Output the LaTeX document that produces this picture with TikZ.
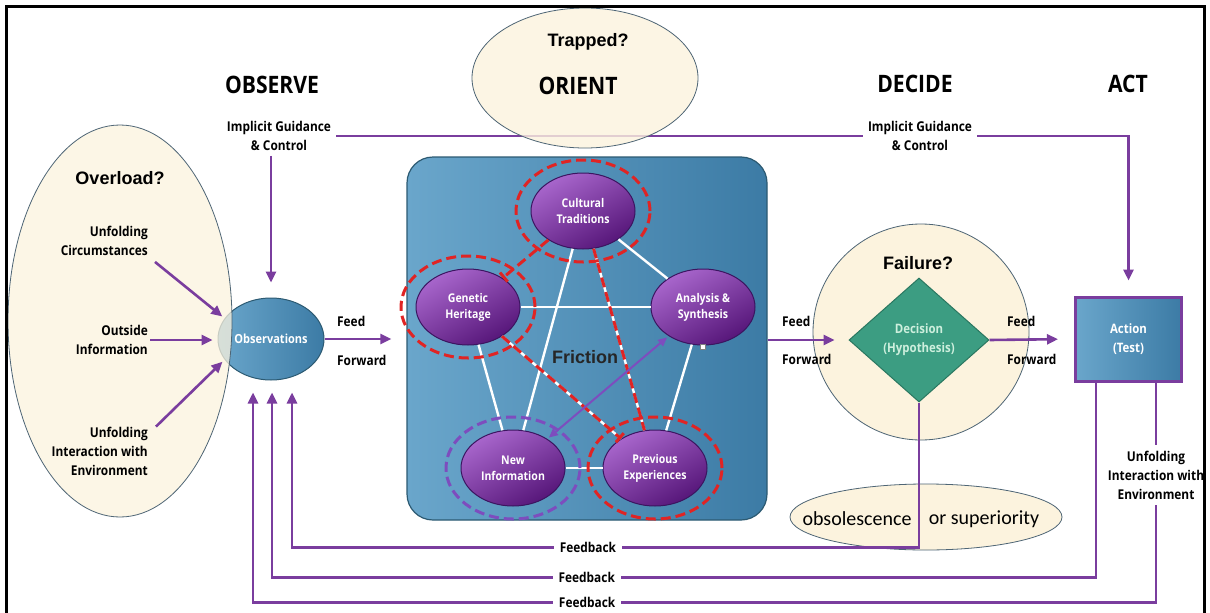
\documentclass[tikz,border=0pt]{standalone}
\usepackage{fontspec}
\setmainfont{Open Sans}[FakeStretch=0.88]
\newfontfamily\qfont{Liberation Sans}
\newfontfamily\calfont{Carlito}
\usetikzlibrary{shapes.geometric,arrows.meta,calc}

\definecolor{flowpurple}{HTML}{7A3D9E}
\definecolor{creamfill}{HTML}{FCF3DE}
\definecolor{edgegray}{HTML}{4E6575}
\definecolor{boxblueL}{HTML}{6AA6CB}
\definecolor{boxblueD}{HTML}{3C7BA5}
\definecolor{boxedge}{HTML}{2C5A72}
\definecolor{nodepurpleL}{HTML}{A866CC}
\definecolor{nodepurpleD}{HTML}{561679}
\definecolor{nodeedge}{HTML}{3B1560}
\definecolor{ringred}{HTML}{E02424}
\definecolor{ringpurple}{HTML}{7D4DBE}
\definecolor{decgreen}{HTML}{3C9D82}
\definecolor{decedge}{HTML}{2A7760}
\definecolor{dectext}{HTML}{CDEFDD}

\tikzset{
  flow/.style={draw=flowpurple, line width=2.6pt, -{Triangle[length=11pt,width=10pt]}},
  plain/.style={draw=flowpurple, line width=2.6pt},
  lbl/.style={font=\fontsize{13.5}{19}\selectfont\bfseries, inner sep=2pt},
  head/.style={font=\fontsize{24}{28}\selectfont\bfseries},
  quest/.style={font=\qfont\fontsize{18}{22}\selectfont\bfseries},
  cream/.style={draw=edgegray, line width=0.8pt, fill=creamfill},
  orientnode/.style={ellipse, draw=nodeedge, line width=1pt, minimum width=104pt,
    minimum height=76pt, inner sep=0pt, top color=nodepurpleL, bottom color=nodepurpleD,
    shading angle=30, text=white, align=center, font=\fontsize{12}{16}\selectfont\bfseries},
  ring/.style={ellipse, draw=ringred, dash pattern=on 10pt off 5pt, line width=3pt,
    minimum width=134pt, minimum height=102pt},
  link/.style={draw=white, line width=2.4pt},
  redlink/.style={draw=ringred, dash pattern=on 10pt off 5pt, line width=3pt},
  fbl/.style={lbl, fill=white, inner sep=6pt},
}

\begin{document}
\begin{tikzpicture}[x=1pt, y=-1pt]
  \useasboundingbox (0,0) rectangle (1210,613);
  \fill[white] (0,0) rectangle (1210,613);

  % phase headings and guidance
  \node[head] (observe) at (272,85) {OBSERVE};
  \node[head] (decide) at (915,84) {DECIDE};
  \node[head] (acthead) at (1128,84) {ACT};
  \node[lbl, align=center, inner sep=5pt] (igl) at (279,136) {Implicit Guidance\\\& Control};
  \node[lbl, align=center, inner sep=5pt] (igr) at (920,136) {Implicit Guidance\\\& Control};
  \draw[plain] (igl.east) -- (igr.west);
  \node[ellipse, cream, fill opacity=0.8, minimum width=226pt, minimum height=140pt] (trap) at (585,78) {};
  \node[quest] (trapped) at (588,42) {Trapped?};
  \node[head] (orienthead) at (578,86) {ORIENT};

  % observe
  \node[ellipse, draw=boxedge, line width=1pt, left color=boxblueL, right color=boxblueD,
    minimum width=106pt, minimum height=82pt, inner sep=0pt, text=white,
    font=\fontsize{12.5}{15}\selectfont\bfseries] (obs) at (271,339) {Observations};
  \node[ellipse, cream, fill opacity=0.75, minimum width=224pt, minimum height=392pt] (overload) at (120,321) {};
  \node[quest] (overq) at (120,178) {Overload?};
  \node[lbl, align=right, anchor=east] (circ) at (150,241) {Unfolding\\Circumstances};
  \node[lbl, align=right, anchor=east] (outside) at (150,340) {Outside\\Information};
  \node[lbl, align=right, anchor=east] (interact) at (150,451) {Unfolding\\Interaction with\\Environment};
  \draw[flow, shorten >=3pt] ([shift={(5,4)}]circ.south east) -- (obs.156);
  \draw[flow, shorten >=5pt] (outside.east) -- (outside.east -| obs.west);
  \draw[flow, shorten >=3pt] ([shift={(6,2)}]interact.north east) -- (obs.204);
  \draw[flow, shorten >=15pt] (igl.south -| obs.north) -- (obs.north);

  % orient
  \node[draw=boxedge, line width=1.2pt, rounded corners=26pt, left color=boxblueL, right color=boxblueD,
    minimum width=360pt, minimum height=363pt] (orient) at (587,338.5) {};
  \draw[flow, shorten >=15pt] (obs.east) -- (obs.east -| orient.west);
  \node[lbl, anchor=west] (feed1) at (335,321) {Feed};
  \node[lbl, anchor=west] (fwd1) at (335,360) {Forward};

  \node[orientnode] (ct) at (583,211) {Cultural\\Traditions};
  \node[orientnode] (gh) at (468,307) {Genetic\\Heritage};
  \node[orientnode] (as) at (703,307) {Analysis \&\\Synthesis};
  \node[orientnode] (ni) at (513,468) {New\\Information};
  \node[orientnode] (pe) at (655,468) {Previous\\Experiences};
  \draw[link] (ct) -- (as);
  \draw[link] (ct) -- (ni);
  \draw[link] (gh) -- (as);
  \draw[link] (gh) -- (ni);
  \draw[link] (as) -- (pe);
  \draw[link] (ni) -- (pe);
  \draw[link] (ct) -- (pe);
  \draw[link] (gh) -- (pe);
  \draw[redlink] (ct) -- (pe);
  \draw[redlink, -{Bar[width=12pt]}] (ct) -- (gh);
  \draw[redlink, -{Bar[width=12pt]}] (gh) -- (pe);
  \node[ring] (ctring) at (ct) {};
  \node[ring] (ghring) at (gh) {};
  \node[ring] (pering) at (pe) {};
  \node[ring, draw=ringpurple] (niring) at (ni) {};
  \draw[draw=ringpurple, line width=2pt, {Triangle[length=9pt,width=8pt]}-{Triangle[length=9pt,width=8pt]},
    shorten <=2pt, shorten >=2pt] (as) -- (ni);
  \node[font=\qfont\fontsize{18}{22}\selectfont\bfseries, text=black!85] (friction) at (585,357) {Friction};
  \node[draw=gray, fill=white, inner sep=0pt, minimum size=5pt] (mark) at (703,347) {};

  % decide
  \node[circle, cream, minimum size=216pt] (fail) at (921,332) {};
  \node[quest] (failq) at (918,263) {Failure?};
  \node[diamond, draw=decedge, line width=1pt, fill=decgreen, minimum width=140pt, minimum height=124pt,
    inner sep=0pt, text=dectext, align=center, font=\fontsize{13}{19}\selectfont\bfseries] (dec) at (919,340) {Decision\\(Hypothesis)};
  \draw[flow, shorten >=14pt] (orient.east |- dec) -- (dec.west);
  \node[lbl, anchor=west] (feed2) at (780,321) {Feed};
  \node[lbl, anchor=west] (fwd2) at (780,359) {Forward};

  % act
  \node[draw=flowpurple, line width=3pt, left color=boxblueL, right color=boxblueD, minimum width=106pt,
    minimum height=84pt, text=white, align=center, font=\fontsize{13}{19}\selectfont\bfseries] (act) at (1128.5,339) {Action\\(Test)};
  \draw[flow, shorten >=16pt] (dec.east) -- (act.west);
  \node[lbl, anchor=west] (feed3) at (1005,321) {Feed};
  \node[lbl, anchor=west] (fwd3) at (1005,359) {Forward};
  \draw[flow, shorten >=15pt] (igr.east) -| (act.north);

  % feedback loops
  \node[ellipse, cream, minimum width=272pt, minimum height=66pt] (obsol) at (926,517) {};
  \node[font=\calfont\fontsize{20}{24}\selectfont] (obsword) at (857,519) {obsolescence};
  \node[font=\calfont\fontsize{20}{24}\selectfont] (supword) at (984,519) {or superiority};
  \draw[flow, shorten >=12pt] (dec.south) |- node[fbl, pos=0.764] (fb1) {Feedback}
    ($(obs.south)+(21,167)$) -- ($(obs.south)+(21,0)$);
  \draw[flow, shorten >=12pt] ([xshift=22pt]act.south west) |- node[fbl, pos=0.809] (fb2) {Feedback}
    ($(obs.south)+(1,197)$) -- ($(obs.south)+(1,0)$);
  \draw[flow, shorten >=12pt] ([xshift=-27pt]act.south east) |- node[fbl, align=center, pos=0.21] (envir) {Unfolding\\Interaction with\\Environment}
    node[fbl, pos=0.815, inner ysep=2pt] (fb3) {Feedback}
    ($(obs.south)+(-18,222)$) -- ($(obs.south)+(-18,0)$);

  % frame
  \draw[line width=3pt] (6,613) -- (6,6) -- (1204,6) -- (1204,613);
\end{tikzpicture}
\end{document}
